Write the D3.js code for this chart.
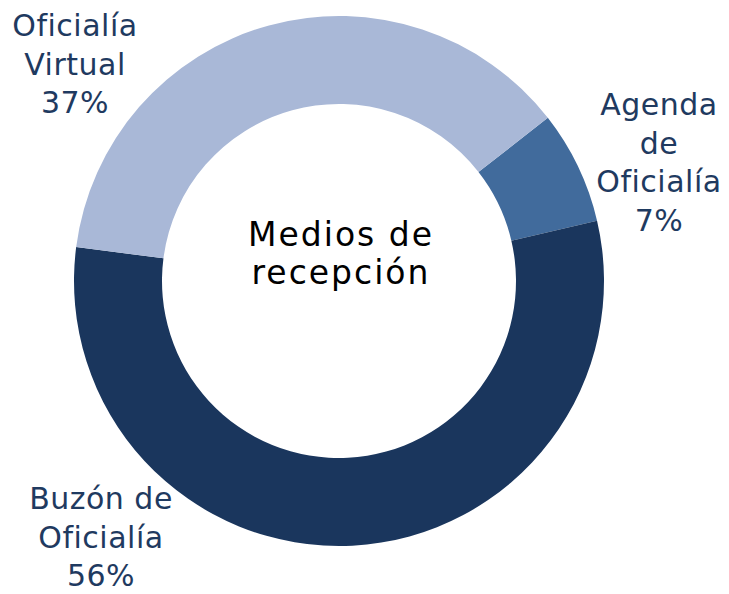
<!DOCTYPE html>
<html>
<head>
<meta charset="utf-8">
<script src="https://cdn.jsdelivr.net/npm/d3@7"></script>
<style>
  body { margin: 0; background: #fff; }
  text { font-family: "Century Gothic", "DejaVu Sans", sans-serif; }
</style>
</head>
<body>
<svg width="729" height="594"></svg>
<script>
// datos
var categorias = ["Agenda de Oficialía", "Buzón de Oficialía", "Oficialía Virtual"];
var valores = [6.9, 55.7, 37.4];
var colores = ["#416b9c", "#1a365d", "#a9b8d7"];
var titulo = ["Medios de", "recepción"];

// líneas de cada etiqueta y su posición (centro x, primera línea base y)
var etiquetas = [
    {lineas: ["Agenda", "de", "Oficialía"], x: 659, y: 115},
    {lineas: ["Buzón de", "Oficialía"], x: 101, y: 509},
    {lineas: ["Oficialía", "Virtual"], x: 75, y: 36}
];

var svg = d3.select("svg"),
    cx = 339, cy = 281,
    rOuter = 265, rInner = 177;

var startA = 52 * Math.PI / 180;

var pie = d3.pie()
    .sort(null)
    .startAngle(startA)
    .endAngle(startA + 2 * Math.PI);

var arc = d3.arc()
    .innerRadius(rInner)
    .outerRadius(rOuter);

var g = svg.append("g")
    .attr("transform", "translate(" + cx + "," + cy + ")");

var arcs = pie(valores);

g.selectAll(".slice")
    .data(arcs)
    .enter().append("path")
    .attr("class", "slice")
    .attr("d", arc)
    .attr("fill", function(d, i) { return colores[i]; });

// etiquetas de categoría + porcentaje
var fmt = d3.format(".0f");
var lineH = 38.5;

etiquetas.forEach(function(e, i) {
    var lines = e.lineas.concat([fmt(valores[i]) + "%"]);
    var t = svg.append("text")
        .attr("text-anchor", "middle")
        .style("font-size", "30px")
        .style("letter-spacing", "0.5px")
        .style("fill", "#1f3a60");
    lines.forEach(function(l, j) {
        t.append("tspan")
            .attr("x", e.x)
            .attr("y", e.y + j * lineH)
            .text(l);
    });
});

// título central
var tt = svg.append("text")
    .attr("text-anchor", "middle")
    .style("font-size", "33px")
    .style("letter-spacing", "2px")
    .style("fill", "#000");
titulo.forEach(function(l, j) {
    tt.append("tspan")
        .attr("x", cx + 2)
        .attr("y", 246 + j * 38)
        .text(l);
});
</script>
</body>
</html>
